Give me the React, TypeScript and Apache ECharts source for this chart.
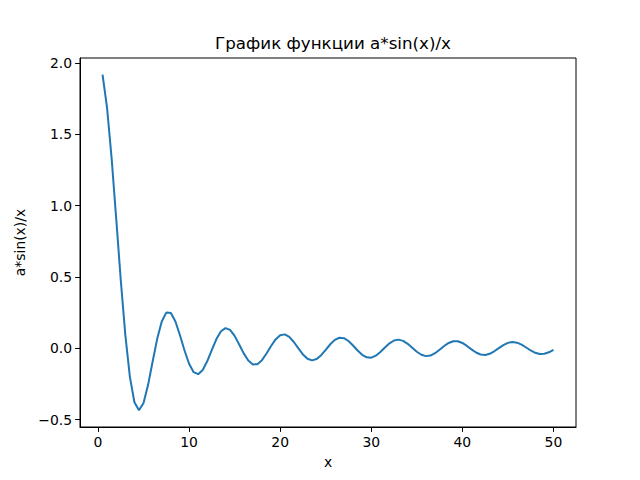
import React, { useEffect, useRef } from "react";
import * as echarts from "echarts";

const xValues = [
  0.5, 1.0, 1.5, 2.0, 2.5, 3.0, 3.5, 4.0, 4.5, 5.0,
  5.5, 6.0, 6.5, 7.0, 7.5, 8.0, 8.5, 9.0, 9.5, 10.0,
  10.5, 11.0, 11.5, 12.0, 12.5, 13.0, 13.5, 14.0, 14.5, 15.0,
  15.5, 16.0, 16.5, 17.0, 17.5, 18.0, 18.5, 19.0, 19.5, 20.0,
  20.5, 21.0, 21.5, 22.0, 22.5, 23.0, 23.5, 24.0, 24.5, 25.0,
  25.5, 26.0, 26.5, 27.0, 27.5, 28.0, 28.5, 29.0, 29.5, 30.0,
  30.5, 31.0, 31.5, 32.0, 32.5, 33.0, 33.5, 34.0, 34.5, 35.0,
  35.5, 36.0, 36.5, 37.0, 37.5, 38.0, 38.5, 39.0, 39.5, 40.0,
  40.5, 41.0, 41.5, 42.0, 42.5, 43.0, 43.5, 44.0, 44.5, 45.0,
  45.5, 46.0, 46.5, 47.0, 47.5, 48.0, 48.5, 49.0, 49.5, 50.0,
];

const yValues = [
  1.9177, 1.6829, 1.33, 0.9093, 0.4788, 0.0941, -0.2004, -0.3784, -0.4345, -0.3836,
  -0.2566, -0.0931, 0.0662, 0.1877, 0.2501, 0.2473, 0.1879, 0.0916, -0.0158, -0.1088,
  -0.1676, -0.1818, -0.1523, -0.0894, -0.0106, 0.0646, 0.1191, 0.1415, 0.129, 0.0867,
  0.0266, -0.036, -0.0863, -0.1131, -0.1115, -0.0834, -0.0369, 0.0158, 0.0621, 0.0913,
  0.0973, 0.0797, 0.0437, -0.0008, -0.0433, -0.0736, -0.0849, -0.0755, -0.0483, -0.0106,
  0.0281, 0.0587, 0.0739, 0.0708, 0.0509, 0.0194, -0.0157, -0.0458, -0.0638, -0.0659,
  -0.052, -0.0261, 0.0053, 0.0345, 0.0544, 0.0606, 0.052, 0.0311, 0.0033, -0.0245,
  -0.0456, -0.0551, -0.0511, -0.0348, -0.0105, 0.0156, 0.0373, 0.0494, 0.0493, 0.0373,
  0.0164, -0.0077, -0.0295, -0.0436, -0.0469, -0.0387, -0.0212, 0.0008, 0.0223, 0.0378,
  0.0439, 0.0392, 0.0252, 0.0053, -0.0155, -0.032, -0.0404, -0.0389, -0.028, -0.0105,
];

const xTicks = [0, 10, 20, 30, 40, 50];
const yTicks = [-0.5, 0.0, 0.5, 1.0, 1.5, 2.0];

const titleText = "График функции a*sin(x)/x";
const xName = "x";
const yName = "a*sin(x)/x";

const FONT = "DejaVu Sans";

export default function App() {
  const ref = useRef<HTMLDivElement>(null);

  useEffect(() => {
    document.body.style.margin = "0";
    const chart = echarts.init(ref.current!, null, { renderer: "svg" });
    const data = xValues.map((x, i) => [x, yValues[i]]);
    chart.setOption({
      animation: false,
      backgroundColor: "#ffffff",
      textStyle: { fontFamily: FONT },
      title: {
        text: titleText,
        left: 328,
        top: 29,
        textAlign: "center",
        textStyle: { fontFamily: FONT, fontSize: 16.7, fontWeight: "normal", color: "#000" },
      },
      grid: {
        left: 80,
        right: 64,
        top: 58,
        bottom: 53,
        show: true,
        borderColor: "#000",
        borderWidth: 1,
        backgroundColor: "transparent",
      },
      xAxis: {
        type: "value",
        min: -1.975,
        max: 52.475,
        name: xName,
        nameLocation: "middle",
        nameGap: 28,
        nameTextStyle: { fontFamily: FONT, fontSize: 13.9, color: "#000" },
        axisLine: { show: true, onZero: false, lineStyle: { color: "#000", width: 1 } },
        axisTick: { show: true, length: 4.9, customValues: xTicks, lineStyle: { color: "#000" } },
        axisLabel: {
          show: true,
          customValues: xTicks,
          margin: 8,
          fontFamily: FONT,
          fontSize: 13.9,
          color: "#000",
          formatter: (v: number) => String(Math.round(v)),
        },
        splitLine: { show: false },
      },
      yAxis: {
        type: "value",
        min: -0.552,
        max: 2.035,
        name: yName,
        nameLocation: "middle",
        nameRotate: 90,
        nameGap: 43,
        nameTextStyle: { fontFamily: FONT, fontSize: 13.9, color: "#000" },
        axisLine: { show: true, onZero: false, lineStyle: { color: "#000", width: 1 } },
        axisTick: { show: true, length: 4.9, customValues: yTicks, lineStyle: { color: "#000" } },
        axisLabel: {
          show: true,
          customValues: yTicks,
          margin: 8,
          fontFamily: FONT,
          fontSize: 13.9,
          color: "#000",
          formatter: (v: number) => v.toFixed(1).replace("-", "\u2212"),
        },
        splitLine: { show: false },
      },
      series: [
        {
          type: "line",
          data,
          symbol: "none",
          smooth: false,
          lineStyle: { color: "#1f77b4", width: 2 },
          itemStyle: { color: "#1f77b4" },
        },
      ],
    });
    return () => chart.dispose();
  }, []);

  return (
    <div
      ref={ref}
      style={{ position: "absolute", left: 0, top: 0, width: 640, height: 480 }}
    />
  );
}
